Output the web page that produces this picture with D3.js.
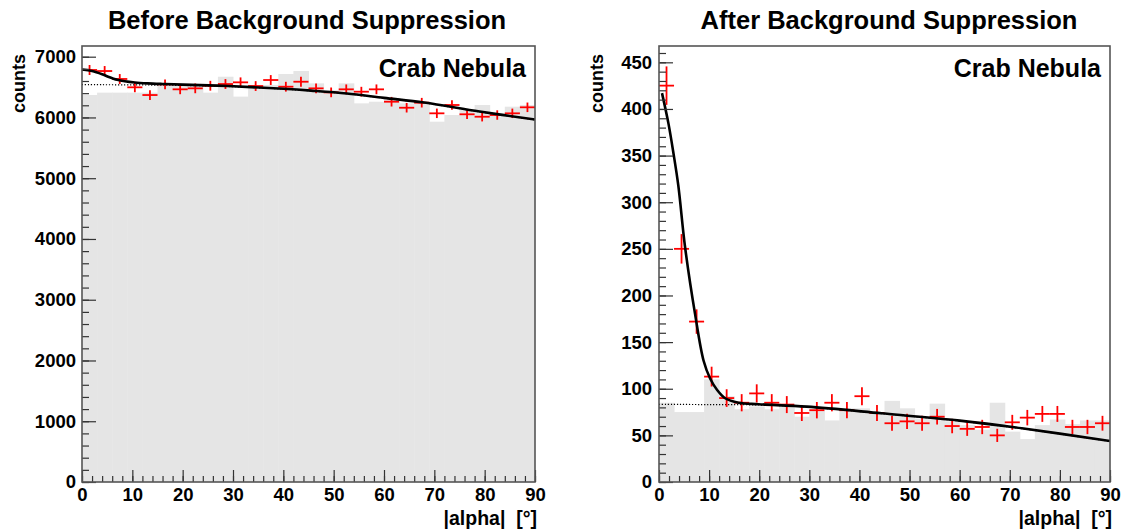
<!DOCTYPE html>
<html>
<head>
<meta charset="utf-8">
<script src="https://d3js.org/d3.v7.min.js"></script>
<style>
    body { margin: 0; background: #fff; }
    svg text { font-family: "Liberation Sans", Arial, Helvetica, sans-serif; font-weight: bold; fill: #000; }
</style>
</head>
<body>
<div id="chart"></div>
<script>
// |alpha| bin centres, 3 degree bins
const alphaBins = [1.5, 4.5, 7.5, 10.5, 13.5, 16.5, 19.5, 22.5, 25.5, 28.5,
    31.5, 34.5, 37.5, 40.5, 43.5, 46.5, 49.5, 52.5, 55.5, 58.5,
    61.5, 64.5, 67.5, 70.5, 73.5, 76.5, 79.5, 82.5, 85.5, 88.5];
const binWidth = 3;
const alphaTicks = [0, 10, 20, 30, 40, 50, 60, 70, 80, 90];

// Before background suppression: ON (red crosses) and OFF (grey histogram)
const beforeOn = [6781, 6764, 6633, 6496, 6369, 6545, 6463, 6479, 6522, 6550,
    6578, 6517, 6616, 6506, 6588, 6479, 6413, 6463, 6424, 6463,
    6259, 6160, 6243, 6068, 6205, 6052, 6012, 6040, 6068, 6167];
const beforeOff = [6369, 6408, 6408, 6408, 6408, 6545, 6545, 6545, 6408, 6670,
    6343, 6535, 6535, 6715, 6764, 6561, 6448, 6561, 6232, 6259,
    6315, 6232, 6259, 5930, 6040, 6122, 6205, 6068, 6177, 6205];
// fit curve and background level [alpha, counts]
const beforeFit = [[0, 6790], [2, 6765], [4, 6712], [5.2, 6671], [7, 6620], [8.5, 6595],
    [10.5, 6575], [13, 6561], [16, 6551], [20, 6541], [29, 6517], [40, 6472],
    [45.5, 6442], [52.6, 6395], [60, 6322], [68, 6245], [79, 6097], [90, 5966]];
const beforeBg = [[0, 6540], [10, 6536], [20, 6527], [29, 6510], [40, 6467],
    [45.5, 6437], [52.6, 6390], [60, 6317], [68, 6240], [79, 6092], [90, 5961]];
const beforeYTicks = [0, 1000, 2000, 3000, 4000, 5000, 6000, 7000];

// After background suppression
const afterOn = [425, 250, 172, 113, 90, 85, 95, 85, 83, 74,
    77, 85, 77, 92, 74, 63, 65, 63, 70, 60,
    57, 59, 50, 64, 69, 73, 73, 59, 59, 63];
const afterOff = [85, 75, 75, 110, 92, 78, 81, 78, 81, 70,
    77, 66, 79, 79, 75, 87, 79, 68, 84, 65,
    61, 56, 85, 54, 46, 61, 67, 62, 66, 66];
const afterFit = [[0.6, 417], [1.9, 384], [2.9, 352], [3.85, 318], [5.2, 252], [7.2, 180],
    [8.9, 130], [10.2, 111], [11.6, 98.7], [13.2, 89.8], [15.9, 85], [19.9, 83.4],
    [29.5, 80.8], [44.4, 73.7], [60, 65.8], [72.4, 57.6], [90, 44]];
const afterBg = [[0, 83.3], [10, 83], [19.9, 82.6], [29.5, 80.4], [44.4, 73.3],
    [60, 65.4], [72.4, 57.2], [90, 43.6]];
const afterYTicks = [0, 50, 100, 150, 200, 250, 300, 350, 400, 450];


class AlphaPlot {

    constructor(_svg, _config) {
        this.svg = _svg;
        this.config = _config;

        this.initVis();
    }

    initVis() {
        let vis = this;
        let c = vis.config;

        vis.colors = {
            'off': '#e5e5e5',
            'on': '#ff0000',
            'frame': '#555555'
        }

        vis.g = vis.svg.append("g");

        // Scales
        vis.x = d3.scaleLinear()
            .domain([0, 90])
            .range([c.left, c.right]);
        vis.y = d3.scaleLinear()
            .domain([0, c.yMax])
            .range([c.bottom, c.top]);

        let clipId = "clip-" + c.id;
        vis.svg.append("clipPath")
            .attr("id", clipId)
            .append("rect")
            .attr("x", c.left)
            .attr("y", c.top)
            .attr("width", c.right - c.left)
            .attr("height", c.bottom - c.top);

        vis.plot = vis.g.append("g")
            .attr("clip-path", "url(#" + clipId + ")");

        // OFF histogram
        vis.plot.selectAll(".off-bar")
            .data(c.off)
            .enter()
            .append("rect")
            .attr("class", "off-bar")
            .attr("x", (d, i) => vis.x(alphaBins[i] - binWidth / 2))
            .attr("y", d => vis.y(d))
            .attr("width", (d, i) => vis.x(alphaBins[i] + binWidth / 2) - vis.x(alphaBins[i] - binWidth / 2) + 0.5)
            .attr("height", d => vis.y(0) - vis.y(d))
            .attr("fill", vis.colors.off);

        // background level (dotted) and full fit (solid)
        let line = d3.line()
            .x(d => vis.x(d[0]))
            .y(d => vis.y(d[1]))
            .curve(d3.curveCatmullRom.alpha(0.5));

        vis.plot.append("path")
            .datum(c.bg)
            .attr("d", line)
            .attr("fill", "none")
            .attr("stroke", "#000")
            .attr("stroke-width", 1.2)
            .attr("stroke-dasharray", "1.2,1.8");

        // ON points with errors
        let pts = vis.plot.selectAll(".on-pt")
            .data(c.on)
            .enter()
            .append("g")
            .attr("class", "on-pt");
        pts.append("line")
            .attr("x1", (d, i) => vis.x(alphaBins[i] - binWidth / 2))
            .attr("x2", (d, i) => vis.x(alphaBins[i] + binWidth / 2))
            .attr("y1", d => vis.y(d))
            .attr("y2", d => vis.y(d));
        pts.append("line")
            .attr("x1", (d, i) => vis.x(alphaBins[i]))
            .attr("x2", (d, i) => vis.x(alphaBins[i]))
            .attr("y1", d => vis.y(d - Math.sqrt(d)))
            .attr("y2", d => vis.y(d + Math.sqrt(d)));
        pts.selectAll("line")
            .attr("stroke", vis.colors.on)
            .attr("stroke-width", 1.8);

        vis.plot.append("path")
            .datum(c.fit)
            .attr("d", line)
            .attr("fill", "none")
            .attr("stroke", "#000")
            .attr("stroke-width", 2.6);

        // Axes: major ticks with labels, minor ticks without
        let yMinor = d3.range(0, c.yMax, c.yMinorStep);
        vis.g.append("g")
            .attr("class", "y-axis-minor")
            .attr("transform", "translate(" + c.left + ",0)")
            .call(d3.axisLeft(vis.y).tickValues(yMinor).tickSize(-7).tickFormat(""));
        vis.g.append("g")
            .attr("class", "y-axis")
            .attr("transform", "translate(" + c.left + ",0)")
            .call(d3.axisLeft(vis.y).tickValues(c.yTicks).tickSize(-14)
                .tickPadding(c.yPad).tickFormat(d3.format("d")));

        let xMinor = d3.range(0, 91, 2);
        vis.g.append("g")
            .attr("class", "x-axis-minor")
            .attr("transform", "translate(0," + c.bottom + ")")
            .call(d3.axisBottom(vis.x).tickValues(xMinor).tickSize(-6).tickFormat(""));
        vis.g.append("g")
            .attr("class", "x-axis")
            .attr("transform", "translate(0," + c.bottom + ")")
            .call(d3.axisBottom(vis.x).tickValues(alphaTicks).tickSize(-12)
                .tickPadding(6).tickFormat(d3.format("d")));

        vis.g.selectAll(".domain").remove();
        vis.g.selectAll(".tick line")
            .attr("stroke", "#333")
            .attr("stroke-width", 1.2);
        vis.g.selectAll(".tick text")
            .style("font-size", "18.5px");

        // Frame
        vis.g.append("rect")
            .attr("x", c.left)
            .attr("y", c.top)
            .attr("width", c.right - c.left)
            .attr("height", c.bottom - c.top)
            .attr("fill", "none")
            .attr("stroke", vis.colors.frame)
            .attr("stroke-width", 1.6);

        // Texts
        vis.g.append("text")
            .attr("x", c.titleX)
            .attr("y", 29)
            .attr("text-anchor", "middle")
            .style("font-size", "25.5px")
            .text(c.title);

        vis.g.append("text")
            .attr("x", c.right - 9)
            .attr("y", 77)
            .attr("text-anchor", "end")
            .style("font-size", "25px")
            .text("Crab Nebula");

        vis.g.append("text")
            .attr("transform", "translate(" + c.yTitleX + "," + (c.top + 8) + ") rotate(-90)")
            .attr("text-anchor", "end")
            .style("font-size", "18px")
            .text("counts");

        vis.g.append("text")
            .attr("x", c.right + 2)
            .attr("y", 525)
            .attr("text-anchor", "end")
            .style("font-size", "19.5px")
            .style("white-space", "pre")
            .text("|alpha|  [°]");
    }
}

let svg = d3.select("#chart").append("svg")
    .attr("width", 1129)
    .attr("height", 531);

new AlphaPlot(svg, {
    id: "before", title: "Before Background Suppression", titleX: 307,
    left: 82, right: 535, top: 46, bottom: 482,
    yMax: 7176, yTicks: beforeYTicks, yMinorStep: 200, yPad: 6, yTitleX: 25,
    on: beforeOn, off: beforeOff, fit: beforeFit, bg: beforeBg
});

new AlphaPlot(svg, {
    id: "after", title: "After Background Suppression", titleX: 889,
    left: 659, right: 1110, top: 46, bottom: 482,
    yMax: 467.5, yTicks: afterYTicks, yMinorStep: 10, yPad: 7, yTitleX: 603,
    on: afterOn, off: afterOff, fit: afterFit, bg: afterBg
});
</script>
</body>
</html>
